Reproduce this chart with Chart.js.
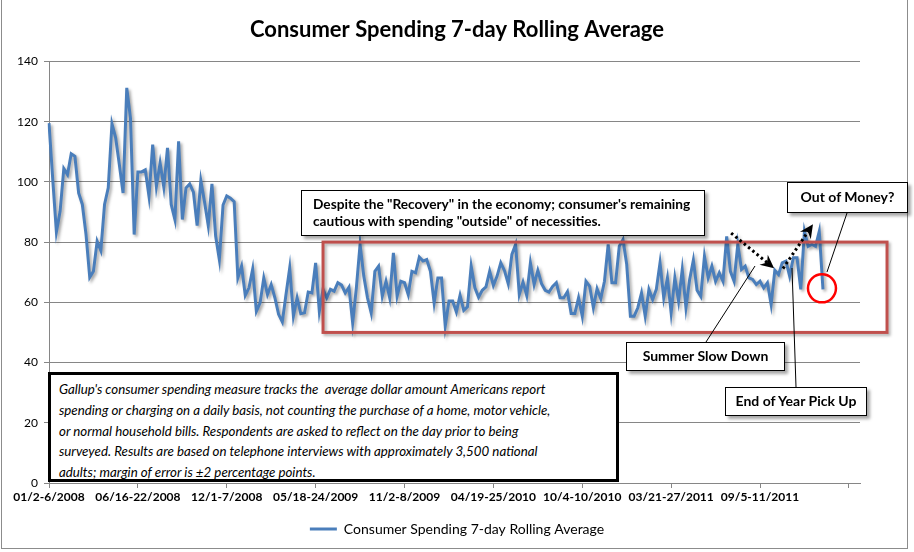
<!DOCTYPE html>
<html>
<head>
<meta charset="utf-8">
<script src="https://cdn.jsdelivr.net/npm/chart.js@4.4.1/dist/chart.umd.min.js"></script>
<style>
  html, body { margin: 0; padding: 0; background: #fff; }
  #wrap { position: relative; width: 914px; height: 552px; overflow: hidden; font-family: Lato, "Open Sans", sans-serif; }
  #frame { position: absolute; left: 1px; top: 0px; width: 905px; height: 548px; border: 1px solid #8c8c8c; border-top: none; box-sizing: content-box; pointer-events: none; }
  canvas { position: absolute; left: 0; top: 0; }
  .note { position: absolute; background: #fff; border: 1.5px solid #000; box-shadow: 3px 3px 3px rgba(0,0,0,0.35); font-weight: bold; font-size: 14px; color: #000; white-space: nowrap; box-sizing: border-box; }
  .center { text-align: center; }
  #gallup { position: absolute; left: 48px; top: 372px; width: 571px; height: 110px; border: 3px solid #000; background: #fff; box-sizing: border-box; font-style: italic; font-size: 13.3px; line-height: 20.8px; padding: 4px 0 0 8px; white-space: nowrap; color: #000; }
</style>
</head>
<body>
<div id="wrap">
  <canvas id="c" width="914" height="552"></canvas>
  <div id="frame"></div>
  <div class="note" id="n1" style="left:301px; top:190px; width:404px; height:46px; padding:4px 0 0 11px; line-height:17px; font-size:13.7px;">Despite the "Recovery" in the economy; consumer's remaining<br>cautious with spending "outside" of necessities.</div>
  <div class="note center" id="n2" style="left:787px; top:182px; width:121px; height:31px; line-height:28px;">Out of Money?</div>
  <div class="note center" id="n3" style="left:626px; top:342px; width:159px; height:29px; line-height:26px;">Summer Slow Down</div>
  <div class="note center" id="n4" style="left:725px; top:387px; width:142px; height:29px; line-height:26px;">End of Year Pick Up</div>
  <div id="gallup">Gallup's consumer spending measure tracks the&nbsp; average dollar amount Americans report<br>spending or charging on a daily basis, not counting the purchase of a home, motor vehicle,<br>or normal household bills. Respondents are asked to reflect on the day prior to being<br>surveyed. Results are based on telephone interviews with approximately 3,500 national<br>adults; margin of error is ±2 percentage points.</div>
</div>
<script>
// ---- DATA ----
const seriesName = 'Consumer Spending 7-day Rolling Average';
const tickLabels = ['01/2-6/2008', '06/16-22/2008', '12/1-7/2008', '05/18-24/2009', '11/2-8/2009',
                    '04/19-25/2010', '10/4-10/2010', '03/21-27/2011', '09/5-11/2011'];
const tickEvery = 24;          // one labelled tick every 24 weeks
const weekCount = 220;         // weekly categories on the axis
const categories = Array.from({ length: weekCount }, (_, i) => 'Week ' + (i + 1));
const spending = [
  119.5, 101, 83.4, 90.2, 104.4, 102.4, 109.3, 108.5, 96.3, 92.5,
  82.5, 68.3, 70.3, 80.3, 77.2, 92.5, 98, 119.3, 114.6, 105.7,
  96.3, 131.2, 121.2, 82.5, 103.3, 103.3, 104, 95.2, 112.4, 98.5,
  106.3, 98.3, 111.3, 92.5, 87.5, 113.5, 87.5, 98, 99.3, 96.6,
  85.5, 100.4, 93.3, 85.5, 99.3, 82, 74.2, 92.3, 95.3, 94.6,
  93.4, 68.2, 72, 62.3, 64.8, 71, 57, 59.8, 68.1, 62.6,
  65.9, 61.5, 56, 53.5, 62.6, 71.4, 55.4, 61.5, 56.2, 56.5,
  63.4, 63.1, 73.1, 57, 64.3, 61.5, 64.3, 63.7, 66.5, 65.7,
  63.1, 65, 53.2, 64.8, 79.2, 68.7, 61.5, 56.5, 70.3, 72,
  62, 67, 61.5, 76.4, 62, 67, 66.5, 62.6, 70.3, 69.8,
  75, 73.7, 74.2, 70.3, 59.8, 68.1, 68.1, 52.1, 60.4, 60.4,
  56.8, 62.3, 57.3, 58.5, 72, 64.8, 61.7, 64, 65.1, 70.3,
  65.6, 68.7, 73.1, 70.5, 66.2, 75.9, 79.2, 62.6, 66.7, 62.3,
  73.1, 65.9, 70.6, 66.2, 64, 63.4, 65.3, 66.5, 61.5, 61.5,
  63.5, 56.3, 56.3, 61.5, 55.4, 67, 65.3, 58.2, 64.5, 61.2,
  67, 79.2, 66.5, 66.5, 78.6, 80.8, 72.6, 55.4, 55.4, 58.2,
  63.1, 55.4, 64.3, 60.9, 64.3, 73.1, 61.5, 68.1, 56.5, 68.1,
  60.4, 70.9, 58.2, 67.6, 74, 64, 62, 75.3, 68.1, 72,
  67, 69.8, 67, 81.9, 70.3, 67, 79.2, 70.9, 72, 68.1,
  67.6, 65.9, 67, 64.8, 66.5, 59.3, 70.6, 69.2, 73.1, 73.7,
  68.7, 74.8, 74.8, 64.3, 83.6, 78.6, 79.2, 78.6, 83.6, 64.3
];
const yTicks = [0, 20, 40, 60, 80, 100, 120, 140];

// annotation anchors in data units (week index, value)
const focusBox = { fromWeek: 74, toWeek: 226.3, top: 80, bottom: 50 };
const slowDownArrow = { from: [184.2, 83], to: [195.8, 71.3] };
const pickUpArrow = { from: [198.2, 71.2], to: [206.3, 85.9] };

const LINE_BLUE = '#4a7ebb';

const shadowPlugin = {
  id: 'lineShadow',
  beforeDatasetDraw(chart) {
    const ctx = chart.ctx;
    ctx.save();
    ctx.shadowColor = 'rgba(0,0,0,0.35)';
    ctx.shadowBlur = 3;
    ctx.shadowOffsetX = 2;
    ctx.shadowOffsetY = 2;
  },
  afterDatasetDraw(chart) { chart.ctx.restore(); }
};

function arrowHead(ctx, x1, y1, x2, y2, size) {
  const a = Math.atan2(y2 - y1, x2 - x1);
  ctx.beginPath();
  ctx.moveTo(x2, y2);
  ctx.lineTo(x2 - size * Math.cos(a - 0.45), y2 - size * Math.sin(a - 0.45));
  ctx.lineTo(x2 - size * 0.6 * Math.cos(a), y2 - size * 0.6 * Math.sin(a));
  ctx.lineTo(x2 - size * Math.cos(a + 0.45), y2 - size * Math.sin(a + 0.45));
  ctx.closePath();
  ctx.fill();
}

const annotPlugin = {
  id: 'annot',
  afterDatasetsDraw(chart) {
    const { ctx, scales: { x, y } } = chart;
    const px = (w) => x.getPixelForValue(w);
    const py = (v) => y.getPixelForValue(v);
    ctx.save();
    // red focus rectangle
    ctx.shadowColor = 'rgba(0,0,0,0.3)';
    ctx.shadowBlur = 3; ctx.shadowOffsetX = 2; ctx.shadowOffsetY = 2;
    ctx.strokeStyle = '#c0504d';
    ctx.lineWidth = 3;
    ctx.strokeRect(px(focusBox.fromWeek), py(focusBox.top),
                   px(focusBox.toWeek) - px(focusBox.fromWeek), py(focusBox.bottom) - py(focusBox.top));
    ctx.shadowColor = 'transparent';

    // red circle around the last point
    const last = spending.length - 1;
    ctx.strokeStyle = '#ff0000';
    ctx.lineWidth = 2.5;
    ctx.beginPath();
    ctx.arc(px(last) - 1, py(spending[last]) - 1, 14, 0, Math.PI * 2);
    ctx.stroke();

    // callout lines
    ctx.strokeStyle = '#000';
    ctx.lineWidth = 1;
    ctx.beginPath();
    ctx.moveTo(755, 266); ctx.lineTo(706, 342);     // summer slow down
    ctx.moveTo(792, 268); ctx.lineTo(796, 387);     // end of year
    ctx.moveTo(847, 213); ctx.lineTo(827, 272);     // out of money
    ctx.stroke();

    // dotted arrows
    ctx.fillStyle = '#000';
    ctx.strokeStyle = '#000';
    ctx.lineWidth = 3;
    ctx.setLineDash([2.5, 3]);
    [slowDownArrow, pickUpArrow].forEach(a => {
      const x1 = px(a.from[0]), y1 = py(a.from[1]), x2 = px(a.to[0]), y2 = py(a.to[1]);
      const ang = Math.atan2(y2 - y1, x2 - x1);
      ctx.beginPath();
      ctx.moveTo(x1, y1);
      ctx.lineTo(x2 - 8 * Math.cos(ang), y2 - 8 * Math.sin(ang));
      ctx.stroke();
      arrowHead(ctx, x1, y1, x2, y2, 15);
    });
    ctx.setLineDash([]);
    ctx.restore();
  }
};

const ctx = document.getElementById('c').getContext('2d');
new Chart(ctx, {
  type: 'line',
  data: {
    labels: categories,
    datasets: [{
      label: seriesName,
      data: spending,
      borderColor: LINE_BLUE,
      backgroundColor: LINE_BLUE,
      borderWidth: 3,
      pointRadius: 0,
      tension: 0,
      fill: false
    }]
  },
  options: {
    responsive: false,
    animation: false,
    devicePixelRatio: 1,
    layout: { padding: { left: 0, right: 0, top: 0, bottom: 6 } },
    plugins: {
      title: {
        display: true,
        text: 'Consumer Spending 7-day Rolling Average',
        color: '#000',
        font: { family: 'Lato', size: 22, weight: 'bold' },
        padding: { top: 17, bottom: 18 }
      },
      legend: {
        position: 'bottom',
        labels: {
          color: '#000',
          font: { family: 'Lato', size: 14 },
          boxWidth: 27,
          boxHeight: 3,
          padding: 9,
          generateLabels(chart) {
            return Chart.defaults.plugins.legend.labels.generateLabels(chart).map(l => ({ ...l, lineWidth: 0, fillStyle: LINE_BLUE }));
          }
        }
      },
      tooltip: { enabled: false }
    },
    scales: {
      x: {
        offset: false,
        afterFit(scale) { scale.height = 30; },
        ticks: {
          autoSkip: false,
          maxRotation: 0,
          minRotation: 0,
          padding: 2,
          color: '#000',
          font: { family: 'Lato', size: 12, weight: 'bold' },
          callback(v, i) { return (i % tickEvery === 0 && i / tickEvery < tickLabels.length) ? tickLabels[i / tickEvery] : ''; }
        },
        grid: {
          drawOnChartArea: false,
          drawTicks: true,
          tickLength: 5,
          color: (c) => (c.index % tickEvery === 0 ? '#868686' : 'rgba(0,0,0,0)')
        },
        border: { color: '#868686', width: 1 }
      },
      y: {
        min: 0,
        max: 140,
        afterFit(scale) { scale.width = 49; },
        afterBuildTicks(scale) { scale.ticks = yTicks.map(v => ({ value: v })); },
        ticks: {
          color: '#000',
          padding: 6,
          font: { family: 'Lato', size: 12 }
        },
        grid: { color: '#868686', lineWidth: 1, tickLength: 5 },
        border: { color: '#868686', width: 1 }
      },
      spacer: {
        type: 'linear',
        position: 'right',
        display: true,
        afterFit(scale) { scale.width = 54; },
        grid: { display: false, drawTicks: false },
        ticks: { display: false },
        border: { display: false }
      }
    }
  },
  plugins: [shadowPlugin, annotPlugin]
});
</script>
</body>
</html>
